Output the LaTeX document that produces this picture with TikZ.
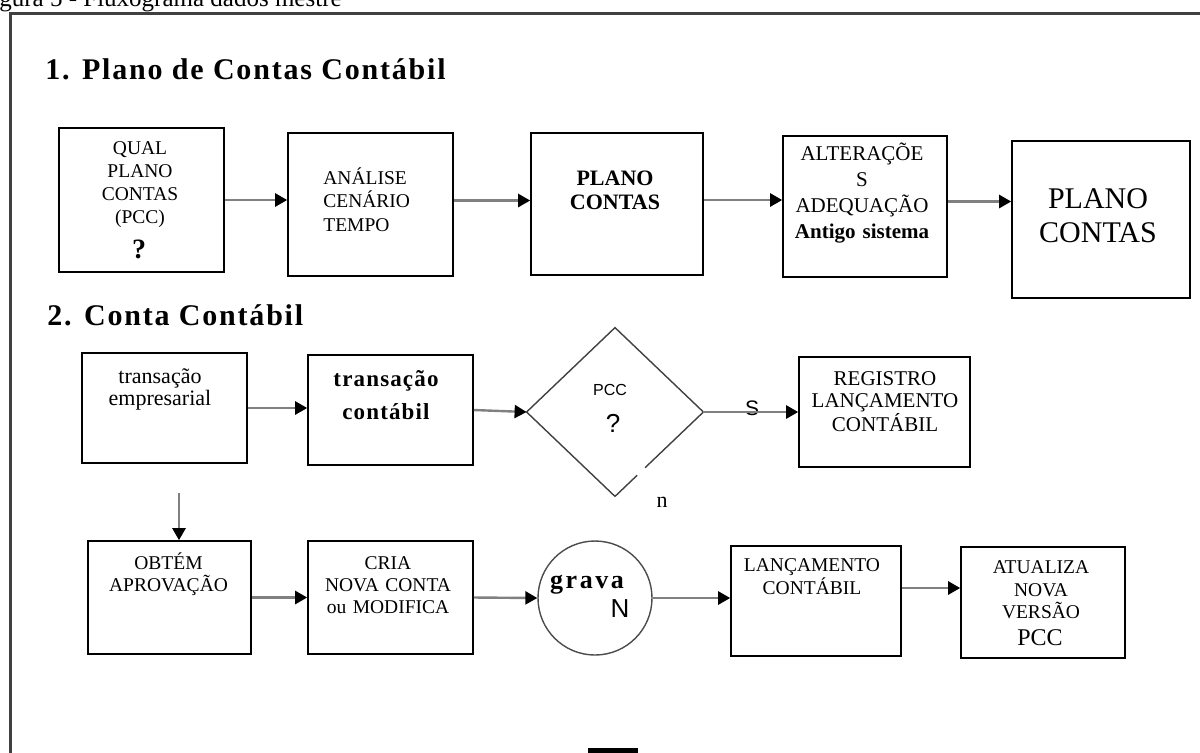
\documentclass[tikz,border=0pt]{standalone}
\usepackage{fontspec}
\setmainfont{Liberation Serif}
\newfontfamily\arialfont{Liberation Sans}
\usetikzlibrary{arrows.meta, shapes.geometric, calc}

\newcommand{\fs}[2]{\fontsize{#1}{#2}\selectfont}

\begin{document}
\begin{tikzpicture}[x=0.5pt, y=-0.5pt,
  box/.style={draw=black, line width=0.8pt, inner sep=0pt},
  txt/.style={inner sep=0pt, align=center, anchor=base},
  arr/.style={draw=black!50, line width=1.2pt,
              -{Triangle[length=6pt, width=6.5pt, color=black]}},
  dline/.style={draw=black!75, line width=0.7pt},
  heading/.style={inner sep=0pt, anchor=base west,
                  font=\fs{15}{17}\bfseries\addfontfeature{LetterSpace=6}}]
  \useasboundingbox (0,0) rectangle (1200,752);
  %--- caption and frame ---
  \node[inner sep=0pt, anchor=base west, font=\fs{12.5}{14}] (cap) at (-1,6)
    {gura 5 - Fluxograma dados mestre};
  \draw[line width=1.5pt, black!75] (10,13) rectangle (1225,775);
  \fill[black] (588,748) rectangle (638,760);
  %--- 1. Plano de Contas Contabil ---
  \node[heading] (h1) at (45,79) {1. Plano de Contas Contábil};
  \node[box, minimum width=82.5pt, minimum height=72pt] (b1) at (141.5,200) {};
  \node[box, minimum width=82.5pt, minimum height=71.5pt] (b2) at (370.5,204.5) {};
  \node[box, minimum width=86pt, minimum height=71pt] (b3) at (617,204) {};
  \node[box, minimum width=82pt, minimum height=70.5pt] (b4) at (865,206.5) {};
  \node[box, minimum width=89pt, minimum height=78.5pt] (b5) at (1101,219.5) {};
  \node[txt, text width=80pt, font=\fs{9.75}{11.5}] (t-b1) at (140,154)
    {QUAL\\PLANO\\CONTAS\\(PCC)};
  \node[txt, font=\fs{14}{16}\bfseries] (q-b1) at (139,258) {?};
  \node[txt, anchor=base west, align=left, text width=50pt,
        font=\fs{9.75}{11.75}] (t-b2) at (323,184) {ANÁLISE\\CENÁRIO\\TEMPO};
  \node[txt, text width=80pt, font=\fs{11}{12}\bfseries] (t-b3) at (615,185)
    {PLANO\\CONTAS};
  \node[txt, text width=80pt, font=\fs{10.5}{13}] (t-b4) at (862,160)
    {ALTERAÇÕE\\S\\ADEQUAÇÃO\\\textbf{Antigo sistema}};
  \node[txt, text width=85pt, font=\fs{15}{17}] (t-b5) at (1098,208)
    {PLANO\\CONTAS};
  \draw[arr] (b1.east) -- (b1.east -| b2.west);
  \draw[arr] ([yshift=2pt]b2.east) -- ([yshift=2pt]b2.east -| b3.west);
  \draw[arr] ([yshift=2pt]b3.east) -- ([yshift=2pt]b3.east -| b4.west);
  \draw[arr] ([yshift=2.5pt]b4.east) -- ([yshift=2.5pt]b4.east -| b5.west);
  %--- 2. Conta Contabil ---
  \node[heading] (h2) at (47,325) {2. Conta Contábil};
  \node[box, minimum width=82.5pt, minimum height=55pt] (c1) at (164.5,408) {};
  \node[box, minimum width=82.5pt, minimum height=55pt] (c2) at (390.5,410) {};
  \node[diamond, minimum width=88pt, minimum height=84pt, inner sep=0pt]
    (d) at (615,412) {};
  \node[box, minimum width=85.5pt, minimum height=55pt] (r) at (884.5,412) {};
  \draw[dline] (d.south) -- (d.west) -- (d.north) -- (d.east)
    -- ($(d.east)!0.66!(d.south)$);
  \draw[dline] ($(d.east)!0.75!(d.south)$) -- (d.south);
  \node[txt, text width=80pt, font=\fs{11}{11}] (t-c1) at (160,383)
    {transação\\empresarial};
  \node[txt, text width=80pt,
        font=\fs{11.5}{16.5}\bfseries\addfontfeature{LetterSpace=5}]
    (t-c2) at (386,386) {transação\\contábil};
  \node[txt, font=\arialfont\fs{8}{9}] (t-d) at (610,395.5) {PCC};
  \node[txt, font=\arialfont\fs{13}{15}] (q-d) at (613,432) {?};
  \node[txt, text width=82pt, font=\fs{10.5}{11}] (t-r) at (885,385)
    {REGISTRO\\LANÇAMENTO\\CONTÁBIL};
  \node[txt, font=\arialfont\fs{10.5}{12}] (s-lbl) at (752,415) {S};
  \node[txt, font=\fs{11}{12}] (n-lbl) at (662,507) {n};
  \draw[arr] (c1.east) -- (c1.east -| c2.west);
  \draw[arr] (c2.east) -- (d.west);
  \draw[arr] (d.east) -- (d.east -| r.west);
  %--- bottom row ---
  \node[box, minimum width=81.5pt, minimum height=56.5pt] (ob) at (169.5,597.5) {};
  \node[box, minimum width=82.5pt, minimum height=56.5pt] (cr) at (390.5,597.5) {};
  \node[circle, draw=black!70, line width=0.7pt, minimum size=57pt,
        inner sep=0pt] (g) at (595,598) {};
  \node[box, minimum width=85pt, minimum height=55pt] (l) at (816,601) {};
  \node[box, minimum width=82pt, minimum height=55.5pt] (a) at (1043,602.5) {};
  \node[txt, text width=80pt, font=\fs{9.75}{11}] (t-ob) at (168.5,569.5)
    {OBTÉM\\APROVAÇÃO};
  \node[txt, text width=80pt, font=\fs{9.75}{11}] (t-cr) at (388,569.5)
    {CRIA\\NOVA CONTA\\ou MODIFICA};
  \node[txt, font=\fs{13}{15}\bfseries\addfontfeature{LetterSpace=10}]
    (t-g) at (587,588) {grava};
  \node[txt, font=\arialfont\fs{13}{15}] (n-g) at (620,617) {N};
  \node[txt, text width=82pt, font=\fs{9.75}{11.5}] (t-l) at (812,571.5)
    {LANÇAMENTO\\CONTÁBIL};
  \node[txt, text width=80pt, font=\fs{9.75}{11.25}] (t-a) at (1041,573.5)
    {ATUALIZA\\NOVA\\VERSÃO};
  \node[txt, font=\fs{12}{14}] (pcc-a) at (1040,645) {PCC};
  \coordinate (dn) at (179,493);
  \draw[arr] (dn) -- (dn |- ob.north);
  \draw[arr] (ob.east) -- (ob.east -| cr.west);
  \draw[arr] (cr.east) -- (g.west);
  \draw[arr] (g.east) -- (g.east -| l.west);
  \draw[arr] ([yshift=6.5pt]l.east) -- ([yshift=6.5pt]l.east -| a.west);
\end{tikzpicture}
\end{document}
